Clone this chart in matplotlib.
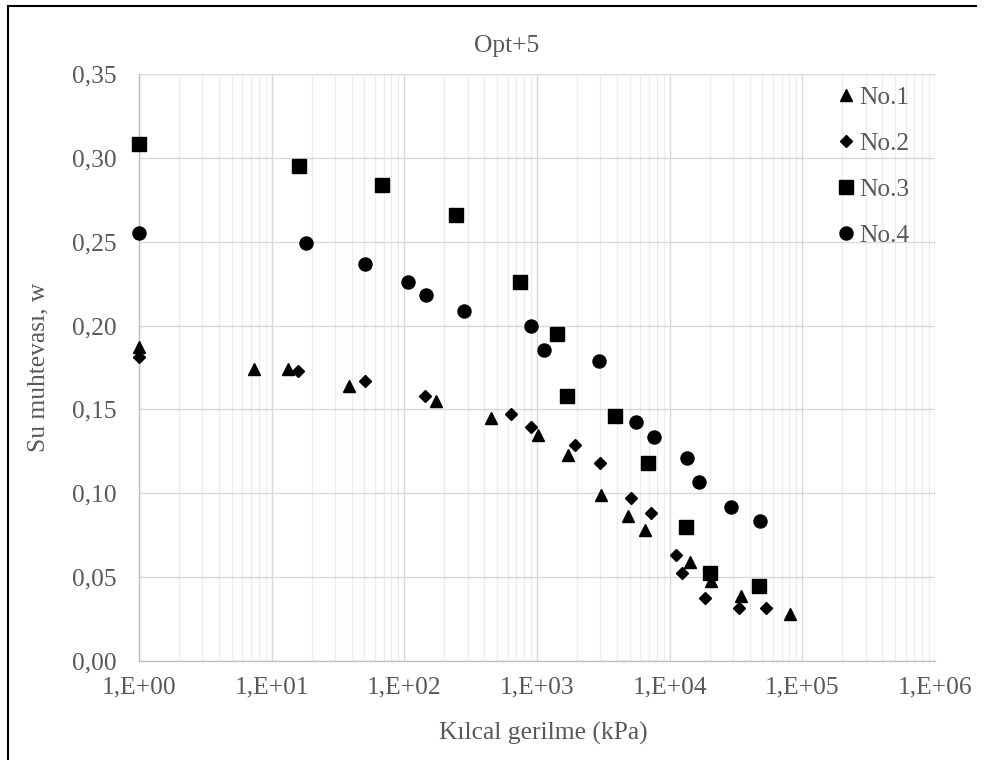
import math
import matplotlib.pyplot as plt
from matplotlib.lines import Line2D
from matplotlib.ticker import FixedLocator, FuncFormatter, LogLocator, NullFormatter

# capillary suction (kPa) vs water content, four samples
no1_x = [1, 7.4, 13.3, 38.3, 173, 449, 1016, 1718, 3050, 4815, 6470, 14280, 20330, 34200, 80500]
no1_w = [0.187, 0.174, 0.174, 0.164, 0.155, 0.145, 0.1345, 0.1226, 0.0988, 0.0863, 0.078, 0.0591, 0.0476, 0.0387, 0.0278]

no2_x = [1, 15.8, 50.2, 143, 640, 895, 1941, 2998, 5070, 7180, 11070, 12420, 18400, 33400, 52800]
no2_w = [0.181, 0.173, 0.167, 0.158, 0.147, 0.1395, 0.129, 0.118, 0.097, 0.088, 0.063, 0.0524, 0.0373, 0.0317, 0.0317]

no3_x = [1, 16.1, 67.8, 245, 743, 1413, 1680, 3866, 6855, 13250, 20100, 47000]
no3_w = [0.308, 0.295, 0.284, 0.266, 0.226, 0.195, 0.158, 0.146, 0.118, 0.080, 0.0526, 0.045]

no4_x = [1, 18.0, 50.8, 107, 145.5, 283, 895, 1133, 2929, 5532, 7600, 13550, 16600, 28770, 48100]
no4_w = [0.255, 0.249, 0.237, 0.226, 0.2185, 0.2085, 0.200, 0.1855, 0.179, 0.1427, 0.1335, 0.1208, 0.107, 0.092, 0.0835]

labels = ["No.1", "No.2", "No.3", "No.4"]
y_ticks = [0.0, 0.05, 0.10, 0.15, 0.20, 0.25, 0.30, 0.35]
x_ticks = [1e0, 1e1, 1e2, 1e3, 1e4, 1e5, 1e6]

plt.rcParams["font.family"] = ["Liberation Serif", "DejaVu Serif"]
txt = "#595959"
fs = 18.4

W, H = 984, 760
fig = plt.figure(figsize=(W / 100, H / 100), dpi=100)
ax = fig.add_axes([139 / W, 1 - 661 / H, (935 - 139) / W, (661 - 74) / H])

styles = [("^", 9.0), ("D", 6.2), ("s", 9.8), ("o", 9.4)]
series = [(no1_x, no1_w), (no2_x, no2_w), (no3_x, no3_w), (no4_x, no4_w)]
for (xs, ws), (m, ms), lab in zip(series, styles, labels):
    ax.plot(xs, ws, linestyle="none", marker=m, markersize=ms, color="black",
            label=lab, clip_on=False, zorder=5)

ax.set_xscale("log")
ax.set_xlim(1, 1e6)
ax.set_ylim(0, 0.35)
ax.xaxis.set_major_locator(FixedLocator(x_ticks))
ax.xaxis.set_minor_locator(LogLocator(base=10, subs=range(2, 10), numticks=20))
ax.xaxis.set_minor_formatter(NullFormatter())
ax.xaxis.set_major_formatter(FuncFormatter(lambda v, p: "1,E+%02d" % round(math.log10(v))))
ax.yaxis.set_major_locator(FixedLocator(y_ticks))
ax.yaxis.set_major_formatter(FuncFormatter(lambda v, p: ("%.2f" % v).replace(".", ",")))

ax.grid(True, which="major", color="#d9d9d9", linewidth=1.0)
ax.grid(True, which="minor", axis="x", color="#ececec", linewidth=1.0)
ax.set_axisbelow(True)
ax.tick_params(which="both", length=0, labelsize=fs, labelcolor=txt)
ax.tick_params(axis="x", pad=11)
ax.tick_params(axis="y", pad=16)
for s in ["top", "right"]:
    ax.spines[s].set_visible(False)
for s in ["left", "bottom"]:
    ax.spines[s].set_color("#bfbfbf")
    ax.spines[s].set_linewidth(1.0)

leg = ax.legend(loc="upper left", bbox_to_anchor=(838 / W, 1 - 86 / H),
                bbox_transform=fig.transFigure, frameon=False, fontsize=fs,
                handlelength=0.6, handletextpad=0.25, labelspacing=0.9,
                borderpad=0, borderaxespad=0)
for t in leg.get_texts():
    t.set_color(txt)

fig.text(507 / W, 1 - 52.3 / H, "Opt+5", ha="center", va="baseline", fontsize=fs, color=txt)
fig.text(543 / W, 1 - 740 / H, "Kılcal gerilme (kPa)", ha="center", va="baseline", fontsize=fs, color=txt)
fig.text(38 / W, 1 - 367 / H, "Su muhtevası, w", ha="center", va="center", rotation=90, fontsize=fs, color=txt)

# outer chart frame (left and top edges visible)
fig.add_artist(Line2D([8 / W, 8 / W], [0, 1 - 5.7 / H], transform=fig.transFigure, color="black", linewidth=1.5))
fig.add_artist(Line2D([8 / W, 976 / W], [1 - 5.7 / H, 1 - 5.7 / H], transform=fig.transFigure, color="black", linewidth=1.5))

fig.savefig("out.png", dpi=100)
